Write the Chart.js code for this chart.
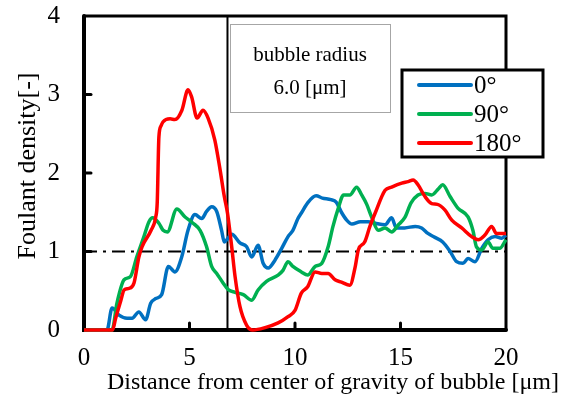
<!DOCTYPE html>
<html>
<head>
<meta charset="utf-8">
<script src="https://cdn.jsdelivr.net/npm/chart.js@4.4.1/dist/chart.umd.min.js"></script>
<style>
html,body{margin:0;padding:0;background:#fff;}
#wrap{width:569px;height:396px;}
</style>
</head>
<body>
<div id="wrap"><canvas id="c" width="569" height="396"></canvas></div>
<script>
// ---- data ----
const seriesNames = ['0°', '90°', '180°'];
const seriesColors = ['#0070C0', '#00B050', '#FF0000'];

const x0 = [0, 1.09, 1.33, 1.66, 2.04, 2.28, 2.6, 2.92, 3.16, 3.4, 3.68, 4.0, 4.31, 4.63, 4.93, 5.26, 5.58, 5.81, 6.05, 6.29, 6.52, 6.65, 6.85, 7.0, 7.39, 7.71, 7.95, 8.25, 8.49, 8.73, 9.05, 9.37, 9.67, 9.9, 10.14, 10.3, 10.6, 11.0, 11.3, 11.7, 11.95, 12.2, 12.45, 12.7, 13.1, 13.46, 13.8, 14.27, 14.58, 14.8, 15.2, 15.7, 16.0, 16.3, 16.63, 17.0, 17.35, 17.66, 17.96, 18.2, 18.53, 18.85, 19.15, 19.48, 19.8, 20];
const y0 = [0, 0, 0.28, 0.19, 0.15, 0.15, 0.23, 0.13, 0.34, 0.40, 0.45, 0.81, 0.74, 0.93, 1.27, 1.47, 1.42, 1.51, 1.57, 1.51, 1.27, 1.12, 1.18, 1.22, 1.11, 1.06, 0.93, 1.08, 0.85, 0.79, 0.89, 1.04, 1.19, 1.27, 1.42, 1.49, 1.62, 1.71, 1.68, 1.66, 1.63, 1.50, 1.40, 1.35, 1.38, 1.38, 1.36, 1.34, 1.43, 1.30, 1.30, 1.32, 1.30, 1.23, 1.18, 1.12, 1.00, 0.87, 0.85, 0.91, 0.87, 1.04, 1.15, 1.19, 1.17, 1.21];

const x90 = [0, 1.33, 1.56, 1.9, 2.2, 2.5, 2.84, 3.08, 3.25, 3.55, 3.75, 3.95, 4.4, 4.79, 5.17, 5.5, 5.81, 6.05, 6.29, 6.59, 6.85, 7.16, 7.55, 7.95, 8.25, 8.65, 9.2, 9.43, 9.67, 9.9, 10.3, 10.6, 10.95, 11.27, 11.57, 11.8, 12.05, 12.3, 12.6, 12.92, 13.16, 13.4, 13.63, 13.95, 14.27, 14.58, 14.9, 15.2, 15.5, 15.83, 16.16, 16.48, 16.8, 17.0, 17.35, 17.73, 18.2, 18.43, 18.6, 18.85, 19.15, 19.38, 19.7, 20];
const y90 = [0, 0, 0.34, 0.64, 0.68, 0.93, 1.19, 1.38, 1.43, 1.36, 1.27, 1.25, 1.54, 1.44, 1.36, 1.27, 1.06, 0.81, 0.72, 0.60, 0.51, 0.48, 0.45, 0.38, 0.51, 0.62, 0.70, 0.76, 0.87, 0.81, 0.74, 0.70, 0.81, 0.85, 1.06, 1.32, 1.55, 1.72, 1.72, 1.82, 1.72, 1.60, 1.44, 1.27, 1.30, 1.25, 1.34, 1.43, 1.62, 1.72, 1.74, 1.72, 1.80, 1.85, 1.70, 1.55, 1.44, 1.27, 1.06, 1.02, 1.12, 1.04, 1.04, 1.15];

const x180 = [0, 1.35, 1.5, 1.75, 1.9, 2.13, 2.37, 2.6, 2.75, 3.18, 3.4, 3.47, 3.55, 3.65, 3.74, 4.08, 4.31, 4.64, 4.93, 5.1, 5.36, 5.64, 5.88, 6.2, 6.45, 6.65, 6.8, 7.0, 7.16, 7.39, 7.71, 8.0, 8.58, 9.2, 9.67, 10.0, 10.3, 10.6, 10.95, 11.27, 11.57, 11.9, 12.2, 12.6, 12.85, 13.0, 13.3, 13.55, 13.8, 14.27, 14.58, 15.06, 15.36, 15.6, 15.83, 16.16, 16.48, 16.75, 17.1, 17.43, 17.9, 18.37, 18.68, 19.0, 19.32, 19.55, 20];
const y180 = [0, 0, 0.15, 0.38, 0.51, 0.53, 0.60, 0.93, 1.06, 1.27, 1.44, 1.62, 2.46, 2.60, 2.65, 2.69, 2.68, 2.80, 3.06, 2.97, 2.70, 2.80, 2.70, 2.42, 2.04, 1.70, 1.49, 1.06, 0.68, 0.30, 0.06, 0, 0.03, 0.09, 0.17, 0.25, 0.47, 0.55, 0.74, 0.72, 0.72, 0.64, 0.61, 0.57, 0.80, 1.02, 1.12, 1.32, 1.49, 1.78, 1.82, 1.87, 1.89, 1.91, 1.85, 1.70, 1.61, 1.60, 1.53, 1.40, 1.30, 1.19, 1.15, 1.21, 1.32, 1.23, 1.23];

const xTicks = [0, 5, 10, 15, 20];
const yTicks = [0, 1, 2, 3, 4];
const bubbleLineX = 6.8;       // vertical marker position
const refLevel = 1;            // dash-dot reference level
const xTitle = 'Distance from center of gravity of bubble [μm]';
const yTitle = 'Foulant density[-]';
const boxLines = ['bubble radius', '6.0 [μm]'];

// ---- build ----
const FONT = "'Liberation Serif', 'Times New Roman', serif";
function pts(xs, ys){ return xs.map((x,i)=>({x:x, y:ys[i]})); }

const seriesData = [pts(x0,y0), pts(x90,y90), pts(x180,y180)];
const datasets = seriesData.map((d,i)=>({
  label: seriesNames[i], data: d, borderColor: seriesColors[i],
  borderWidth: 3.5, pointRadius: 0, tension: 0.4, cubicInterpolationMode: 'monotone',
  fill: false, order: 2 - i, clip: 6
}));
datasets.push({
  label: 'ref', data: [{x: xTicks[0], y: refLevel}, {x: xTicks[xTicks.length-1], y: refLevel}],
  borderColor: '#000', borderWidth: 2, borderDash: [13, 6, 3, 6], pointRadius: 0, order: 10
});
datasets.push({
  label: 'radius', data: [{x: bubbleLineX, y: yTicks[0]}, {x: bubbleLineX, y: yTicks[yTicks.length-1]}],
  borderColor: '#000', borderWidth: 2, pointRadius: 0, order: 11
});

const framePlugin = {
  id: 'frame',
  beforeDatasetsDraw(chart){
    const {ctx, chartArea: a, scales} = chart;
    ctx.save();
    ctx.strokeStyle = '#000';
    ctx.lineCap = 'round';
    ctx.lineWidth = 3;
    yTicks.slice(1, -1).forEach(v=>{
      const y = scales.y.getPixelForValue(v);
      ctx.beginPath(); ctx.moveTo(a.left, y); ctx.lineTo(a.left + 7, y); ctx.stroke();
    });
    xTicks.slice(1, -1).forEach(v=>{
      const x = scales.x.getPixelForValue(v);
      ctx.beginPath(); ctx.moveTo(x, a.bottom); ctx.lineTo(x, a.bottom - 7); ctx.stroke();
    });
    ctx.lineWidth = 3;
    ctx.beginPath(); ctx.moveTo(a.left, a.top); ctx.lineTo(a.right, a.top); ctx.lineTo(a.right, a.bottom); ctx.stroke();
    ctx.lineWidth = 4;
    ctx.beginPath(); ctx.moveTo(a.left, a.top); ctx.lineTo(a.left, a.bottom); ctx.lineTo(a.right, a.bottom); ctx.stroke();
    ctx.restore();
  },
  afterDraw(chart){
    const {ctx} = chart;
    ctx.save();
    ctx.fillStyle = '#000';
    ctx.textAlign = 'center'; ctx.textBaseline = 'middle';
    ctx.font = '24px ' + FONT;
    ctx.fillText(xTitle, 333, 383);
    ctx.save();
    ctx.font = '26px ' + FONT;
    ctx.translate(28, 166); ctx.rotate(-Math.PI/2);
    ctx.fillText(yTitle, 0, 0);
    ctx.restore();
    // bubble radius box
    ctx.fillStyle = '#fff';
    ctx.fillRect(230, 24, 160, 88);
    ctx.strokeStyle = '#a6a6a6'; ctx.lineWidth = 1;
    ctx.strokeRect(230.5, 24.5, 160, 88);
    ctx.fillStyle = '#000';
    ctx.font = '21px ' + FONT;
    ctx.fillText(boxLines[0], 310, 55);
    ctx.fillText(boxLines[1], 310, 88);
    // legend
    ctx.fillStyle = '#fff';
    ctx.fillRect(402, 70, 141, 87);
    ctx.strokeStyle = '#000'; ctx.lineWidth = 3;
    ctx.strokeRect(402, 70, 141, 87);
    ctx.font = '25px ' + FONT;
    ctx.textAlign = 'left';
    const ly = [85, 114, 143];
    seriesNames.forEach((n,i)=>{
      ctx.strokeStyle = seriesColors[i]; ctx.lineWidth = 4; ctx.lineCap = 'round';
      ctx.beginPath(); ctx.moveTo(419, ly[i]); ctx.lineTo(471, ly[i]); ctx.stroke();
      ctx.fillStyle = '#000';
      ctx.fillText(n, 474, ly[i] + 1);
    });
    ctx.restore();
  }
};

new Chart(document.getElementById('c'), {
  type: 'line',
  data: { datasets },
  options: {
    responsive: false, animation: false, devicePixelRatio: 1,
    layout: { padding: { top: 16, right: 63, left: 0, bottom: 0 } },
    plugins: { legend: { display: false }, tooltip: { enabled: false } },
    scales: {
      x: {
        type: 'linear', min: 0, max: 20,
        afterBuildTicks(s){ s.ticks = xTicks.map(v=>({value: v})); },
        afterFit(s){ s.height = 66; s.paddingLeft = 0; s.paddingRight = 0; },
        grid: { display: false, drawTicks: false }, border: { display: false },
        ticks: { color: '#000', font: { family: FONT, size: 25 }, padding: 13, maxRotation: 0 }
      },
      y: {
        type: 'linear', min: 0, max: 4,
        afterBuildTicks(s){ s.ticks = yTicks.map(v=>({value: v})); },
        afterFit(s){ s.width = 84; s.paddingTop = 0; s.paddingBottom = 0; },
        grid: { display: false, drawTicks: false }, border: { display: false },
        ticks: { color: '#000', font: { family: FONT, size: 25 }, padding: 24 }
      }
    }
  },
  plugins: [framePlugin]
});
</script>
</body>
</html>
